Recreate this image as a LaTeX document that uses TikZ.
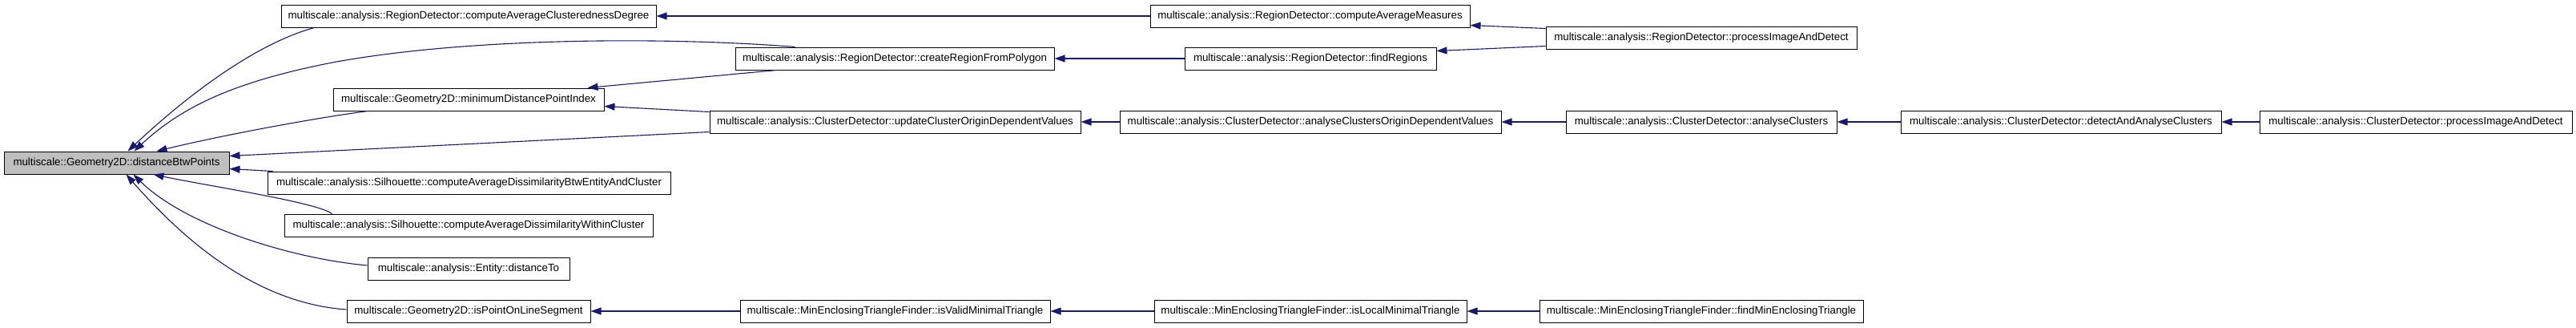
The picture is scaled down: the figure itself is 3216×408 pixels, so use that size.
\documentclass[tikz,border=0pt]{standalone}
\usepackage{fontspec}
\setmainfont{Liberation Sans}
\usetikzlibrary{arrows.meta,calc}
\definecolor{edgeblue}{HTML}{191970}
\definecolor{focusgray}{HTML}{BFBFBF}
\begin{document}
\begin{tikzpicture}[x=1pt,y=-1pt,
  box/.style={draw=black, fill=white, line width=1pt, minimum height=28pt, inner sep=0pt,
    font=\fontsize{13.3}{16}\selectfont, anchor=center},
  edge/.style={draw=edgeblue, line width=1.1pt, -{Triangle[length=13pt,width=9pt]}}]
\useasboundingbox (0,0) rectangle (3216,408);
% rank 0
\node[box, fill=focusgray, minimum width=281pt] (A) at (145.5,203) {multiscale::Geometry2D::distanceBtwPoints};
% rank 1
\node[box, minimum width=468pt] (B) at (585,20) {multiscale::analysis::RegionDetector::computeAverageClusterednessDegree};
\node[box, minimum width=338pt] (D) at (585,124) {multiscale::Geometry2D::minimumDistancePointIndex};
\node[box, minimum width=503pt] (F) at (585.5,228) {multiscale::analysis::Silhouette::computeAverageDissimilarityBtwEntityAndCluster};
\node[box, minimum width=460pt] (G) at (585,281) {multiscale::analysis::Silhouette::computeAverageDissimilarityWithinCluster};
\node[box, minimum width=252pt] (H) at (585,335) {multiscale::analysis::Entity::distanceTo};
\node[box, minimum width=304pt] (I) at (585,388) {multiscale::Geometry2D::isPointOnLineSegment};
% rank 2
\node[box, minimum width=398pt] (C) at (1117,73) {multiscale::analysis::RegionDetector::createRegionFromPolygon};
\node[box, minimum width=463pt] (E) at (1117.5,152) {multiscale::analysis::ClusterDetector::updateClusterOriginDependentValues};
\node[box, minimum width=387pt] (J) at (1117.5,388) {multiscale::MinEnclosingTriangleFinder::isValidMinimalTriangle};
% rank 3
\node[box, minimum width=399pt] (M) at (1635.5,20) {multiscale::analysis::RegionDetector::computeAverageMeasures};
\node[box, minimum width=314pt] (N) at (1636,73) {multiscale::analysis::RegionDetector::findRegions};
\node[box, minimum width=476pt] (O) at (1636,152) {multiscale::analysis::ClusterDetector::analyseClustersOriginDependentValues};
\node[box, minimum width=390pt] (K) at (1636,388) {multiscale::MinEnclosingTriangleFinder::isLocalMinimalTriangle};
% rank 4
\node[box, minimum width=388pt] (S) at (2124,47) {multiscale::analysis::RegionDetector::processImageAndDetect};
\node[box, minimum width=338pt] (P) at (2124,152) {multiscale::analysis::ClusterDetector::analyseClusters};
\node[box, minimum width=404pt] (L) at (2124,388) {multiscale::MinEnclosingTriangleFinder::findMinEnclosingTriangle};
% rank 5
\node[box, minimum width=400pt] (Q) at (2573,152) {multiscale::analysis::ClusterDetector::detectAndAnalyseClusters};
% rank 6
\node[box, minimum width=390pt] (R) at (3016,152) {multiscale::analysis::ClusterDetector::processImageAndDetect};

% edges into A
\draw[edge] ($(B.south west)+(42,0)$) .. controls (313,56) and (223,129) .. ($(A.north west)+(155,0)$);
\draw[edge] ($(C.north west)+(75,0)$) .. controls (850,47) and (600,45) .. (420,77)
   .. controls (300,100) and (230,130) .. ($(A.north west)+(163,0)$);
\draw[edge] ($(D.south west)+(44,0)$) .. controls (400,146) and (280,168) .. ($(A.north west)+(191,0)$);
\draw[edge] ($(E.south west)+(0,-2)$) -- ($(A.north east)+(0,6)$);
\draw[edge] ($(F.north west)+(7,0)$) -- ($(A.north east)+(0,22)$);
\draw[edge] ($(G.north west)+(60,0)$) .. controls (395,252) and (260,232) .. ($(A.south west)+(187,0)$);
\draw[edge] ($(H.west)+(0,-4)$) .. controls (360,322) and (230,280) .. ($(A.south west)+(162,0)$);
\draw[edge] ($(I.west)+(0,-2)$) .. controls (320,378) and (230,300) .. ($(A.south west)+(153,0)$);
% edges into D
\draw[edge] ($(C.south west)+(52,0)$) -- ($(D.north east)+(-21,0)$);
\draw[edge] ($(E.north west)+(0,2)$) -- ($(D.north east)+(0,23)$);
% other edges
\draw[edge] (M.west) -- (B.east);
\draw[edge] ($(S.north west)+(0,3)$) -- ($(M.south east)+(0,-3)$);
\draw[edge] ($(S.south west)+(0,-4)$) -- ($(N.north east)+(0,5)$);
\draw[edge] (N.west) -- (C.east);
\draw[edge] (O.west) -- (E.east);
\draw[edge] (P.west) -- (O.east);
\draw[edge] (Q.west) -- (P.east);
\draw[edge] (R.west) -- (Q.east);
\draw[edge] (J.west) -- (I.east);
\draw[edge] (K.west) -- (J.east);
\draw[edge] (L.west) -- (K.east);
\end{tikzpicture}
\end{document}
